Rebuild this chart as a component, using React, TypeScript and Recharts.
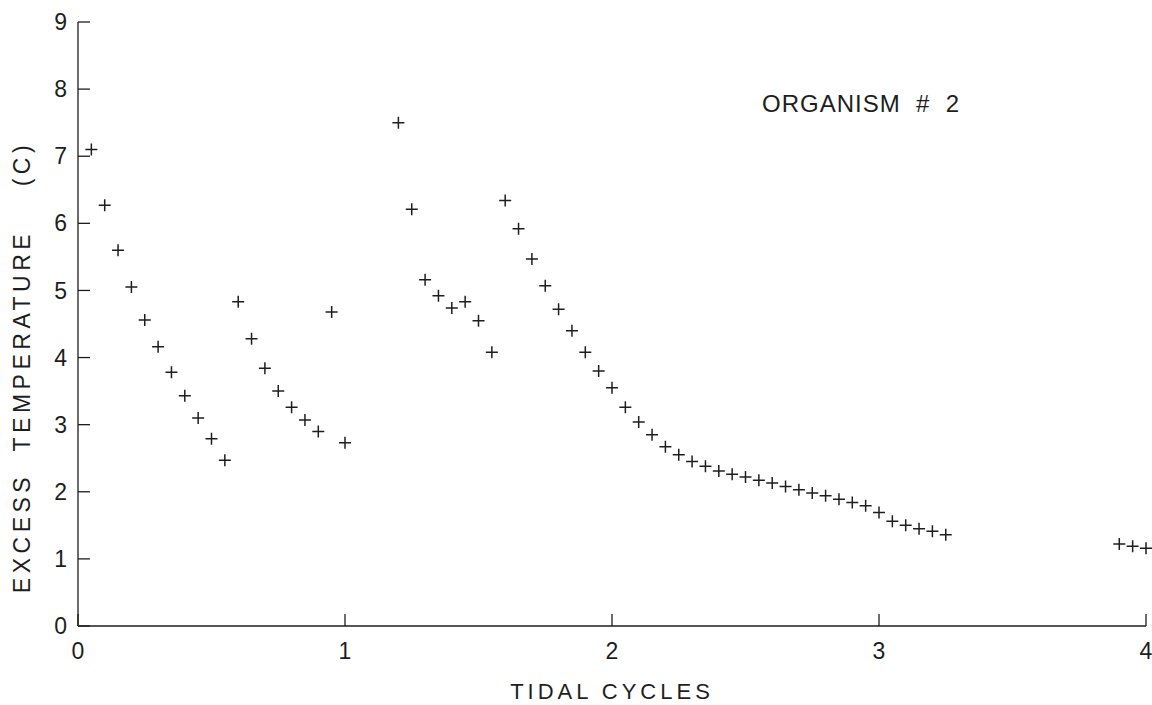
import React from "react";
import { ScatterChart, Scatter, XAxis, YAxis, Label } from "recharts";

// tidal cycle (x) and excess temperature in C (y)
const cycles = [
  0.05, 0.1, 0.15, 0.2, 0.25, 0.3, 0.35, 0.4, 0.45, 0.5, 0.55,
  0.6, 0.65, 0.7, 0.75, 0.8, 0.85, 0.9, 0.95, 1.0,
  1.2, 1.25, 1.3, 1.35, 1.4, 1.45, 1.5, 1.55,
  1.6, 1.65, 1.7, 1.75, 1.8, 1.85, 1.9, 1.95,
  2.0, 2.05, 2.1, 2.15, 2.2, 2.25, 2.3, 2.35, 2.4, 2.45,
  2.5, 2.55, 2.6, 2.65, 2.7, 2.75, 2.8, 2.85, 2.9, 2.95,
  3.0, 3.05, 3.1, 3.15, 3.2, 3.25,
  3.9, 3.95, 4.0,
];
const excessTemp = [
  7.1, 6.27, 5.6, 5.05, 4.56, 4.16, 3.78, 3.43, 3.1, 2.79, 2.47,
  4.83, 4.28, 3.84, 3.5, 3.26, 3.07, 2.9, 4.68, 2.73,
  7.5, 6.21, 5.16, 4.92, 4.74, 4.83, 4.55, 4.08,
  6.34, 5.92, 5.47, 5.07, 4.72, 4.4, 4.08, 3.8,
  3.55, 3.26, 3.04, 2.85, 2.67, 2.55, 2.45, 2.38, 2.31, 2.26,
  2.22, 2.17, 2.13, 2.08, 2.03, 1.98, 1.94, 1.89, 1.84, 1.79,
  1.69, 1.56, 1.5, 1.45, 1.41, 1.36,
  1.22, 1.19, 1.16,
];
const xTicks = [0, 1, 2, 3, 4];
const yTicks = [0, 1, 2, 3, 4, 5, 6, 7, 8, 9];

const points = cycles.map((x, i) => ({ x, y: excessTemp[i] }));

const FONT = "'Liberation Sans', Arial, sans-serif";
const INK = "#1e1e1e";

function Cross(props: any) {
  const { cx, cy } = props;
  return (
    <path
      d={`M${cx - 6},${cy}h12M${cx},${cy - 6}v12`}
      stroke={INK}
      strokeWidth={1.5}
      fill="none"
    />
  );
}

function XTitle(props: any) {
  const { viewBox } = props;
  return (
    <text
      x={viewBox.x + viewBox.width / 2}
      y={699}
      textAnchor="middle"
      fill={INK}
      fontFamily={FONT}
      fontSize={22}
      letterSpacing={4}
      style={{ whiteSpace: "pre" }}
    >
      TIDAL CYCLES
    </text>
  );
}

function YTitle() {
  return (
    <text
      x={30}
      y={367}
      transform="rotate(-90, 30, 367)"
      textAnchor="middle"
      fill={INK}
      fontFamily={FONT}
      fontSize={23}
      letterSpacing={4.5}
      style={{ whiteSpace: "pre" }}
    >
      {"EXCESS  TEMPERATURE    (C)"}
    </text>
  );
}

const tickStyle = { fill: INK, fontSize: 23, fontFamily: FONT };

export default function App() {
  return (
    <div style={{ position: "absolute", left: 0, top: 0, background: "#fff" }}>
      <ScatterChart
        width={1152}
        height={705}
        margin={{ top: 22, right: 6, bottom: 19, left: 18 }}
      >
        <XAxis
          type="number"
          dataKey="x"
          domain={[0, 4]}
          ticks={xTicks}
          height={60}
          tickSize={-12}
          tickMargin={29}
          tick={tickStyle}
          axisLine={{ stroke: INK, strokeWidth: 1.3 }}
          tickLine={{ stroke: INK, strokeWidth: 1.3 }}
        >
          <Label content={<XTitle />} />
        </XAxis>
        <YAxis
          type="number"
          dataKey="y"
          domain={[0, 9]}
          ticks={yTicks}
          width={60}
          tickSize={-12}
          tickMargin={23}
          tick={tickStyle}
          axisLine={{ stroke: INK, strokeWidth: 1.3 }}
          tickLine={{ stroke: INK, strokeWidth: 1.3 }}
        >
          <Label content={<YTitle />} />
        </YAxis>
        <Scatter data={points} shape={<Cross />} isAnimationActive={false} />
        <text
          x={762}
          y={112}
          fill={INK}
          fontFamily={FONT}
          fontSize={24}
          letterSpacing={1}
          style={{ whiteSpace: "pre" }}
        >
          {"ORGANISM  #  2"}
        </text>
      </ScatterChart>
    </div>
  );
}
